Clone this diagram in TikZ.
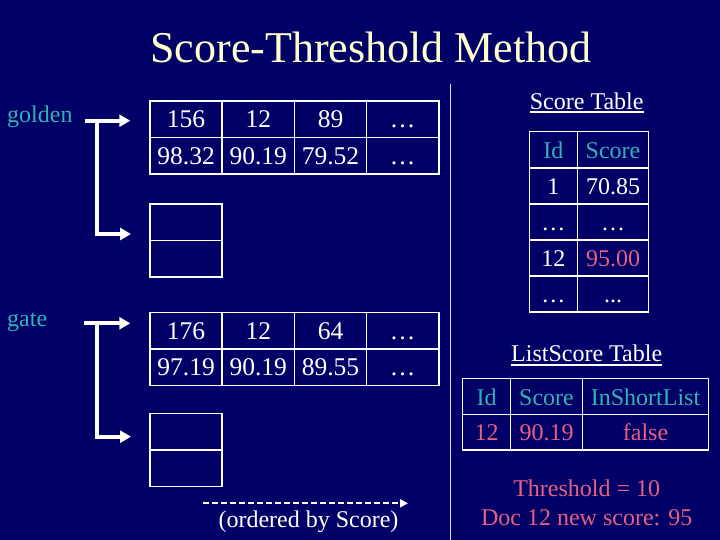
\documentclass[tikz,border=0pt]{standalone}
\usepackage{fontspec}
\setmainfont{Liberation Serif}
\usetikzlibrary{arrows.meta}
\definecolor{bgnavy}{RGB}{0,0,102}
\definecolor{ttlyellow}{RGB}{255,255,204}
\definecolor{tealc}{RGB}{51,178,178}
\definecolor{pinkc}{RGB}{230,96,128}
\newcommand{\fsz}{\fontsize{24}{28}\selectfont}
\newcommand{\fszb}{\fontsize{25.5}{30}\selectfont}
\tikzset{
  cell/.style={draw=white, line width=1.5pt, minimum width=#1, minimum height=36.5pt,
    inner sep=0pt, text height=17pt, text depth=0pt, font=\fsz, text=white},
  bigcell/.style={cell=#1, font=\fszb},
  txt/.style={inner sep=0pt, font=\fsz, text=white},
  lbl/.style={inner sep=0pt, font=\fsz, text=tealc},
  thickarrow/.style={draw=white, line width=4pt, -{Triangle[length=11pt,width=12pt]}},
  dasharrow/.style={draw=white, line width=2pt, dash pattern=on 6pt off 3pt,
    -{Triangle[length=8pt,width=8pt]}},
  uline/.style={draw=white, line width=1.8pt}
}
\begin{document}
\begin{tikzpicture}[x=1pt,y=-1pt]
\fill[bgnavy] (0,0) rectangle (720,540);
\useasboundingbox (0,0) rectangle (720,540);

% title
\node[inner sep=0pt, anchor=base, text=ttlyellow, font=\fontsize{44}{50}\selectfont] (title) at (371,63) {Score-Threshold Method};

% separator
\coordinate (septop) at (450.5,84);
\coordinate (sepbot) at (450.5,540);
\draw[draw=white!85!bgnavy, line width=1.5pt] (septop) -- (sepbot);

% labels
\node[lbl, anchor=base west] (golden) at (7,123) {golden};
\node[lbl, anchor=base west] (gate) at (7,326) {gate};

% golden table
\node[bigcell=72.2pt] (g11) at (186.1,119.4) {156};
\node[bigcell=72.2pt] (g12) at (258.3,119.4) {12};
\node[bigcell=72.2pt] (g13) at (330.5,119.4) {89};
\node[bigcell=72.2pt] (g14) at (402.7,119.4) {…};
\node[bigcell=72.2pt] (g21) at (186.1,156.0) {98.32};
\node[bigcell=72.2pt] (g22) at (258.3,156.0) {90.19};
\node[bigcell=72.2pt] (g23) at (330.5,156.0) {79.52};
\node[bigcell=72.2pt] (g24) at (402.7,156.0) {…};
\node[cell=72.2pt] (gb1) at (186.1,222.3) {};
\node[cell=72.2pt] (gb2) at (186.1,258.8) {};

% golden arrows
\coordinate (gs) at (85,120.7);
\coordinate (gj) at (96.7,120.7);
\coordinate (ge) at (131,234);
\draw[thickarrow, shorten >=19pt] (gs) -- (gs -| g11.west);
\draw[thickarrow] (gj) |- (ge);

% gate table
\node[bigcell=72.2pt] (t11) at (186.1,330.5) {176};
\node[bigcell=72.2pt] (t12) at (258.3,330.5) {12};
\node[bigcell=72.2pt] (t13) at (330.5,330.5) {64};
\node[bigcell=72.2pt] (t14) at (402.7,330.5) {…};
\node[bigcell=72.2pt] (t21) at (186.1,367.0) {97.19};
\node[bigcell=72.2pt] (t22) at (258.3,367.0) {90.19};
\node[bigcell=72.2pt] (t23) at (330.5,367.0) {89.55};
\node[bigcell=72.2pt] (t24) at (402.7,367.0) {…};
\node[cell=72.2pt] (tb1) at (186.1,431.8) {};
\node[cell=72.2pt] (tb2) at (186.1,468.3) {};

% gate arrows
\coordinate (ts) at (84,323.3);
\coordinate (tj) at (96.7,323.3);
\coordinate (te) at (131,436.7);
\draw[thickarrow, shorten >=19pt] (ts) -- (ts -| t11.west);
\draw[thickarrow] (tj) |- (te);

% ordered by score
\coordinate (ds) at (203,503.3);
\coordinate (de) at (408,503.3);
\draw[dasharrow] (ds) -- (de);
\node[txt, anchor=base] (ordered) at (308.5,527) {(ordered by Score)};

% score table
\node[txt, anchor=base] (sttl) at (586.7,109.3) {Score Table};
\draw[uline] ([yshift=-3pt]sttl.base west) -- ([yshift=-3pt]sttl.base east);
\tikzset{sc/.style={cell=#1, minimum height=36.1pt}}
\node[sc=48pt, text=tealc] (s11) at (553.3,149.75) {Id};
\node[sc=71.4pt, text=tealc] (s12) at (613.0,149.75) {Score};
\node[sc=48pt] (s21) at (553.3,185.85) {1};
\node[sc=71.4pt] (s22) at (613.0,185.85) {70.85};
\node[sc=48pt] (s31) at (553.3,221.95) {…};
\node[sc=71.4pt] (s32) at (613.0,221.95) {…};
\node[sc=48pt] (s41) at (553.3,258.05) {12};
\node[sc=71.4pt, text=pinkc] (s42) at (613.0,258.05) {95.00};
\node[sc=48pt] (s51) at (553.3,294.15) {…};
\node[sc=71.4pt] (s52) at (613.0,294.15) {...};

% listscore table
\node[txt, anchor=base] (lttl) at (586.7,361.7) {ListScore Table};
\draw[uline] ([yshift=-3pt]lttl.base west) -- ([yshift=-3pt]lttl.base east);
\tikzset{lc/.style={cell=#1, minimum height=35.7pt}}
\node[lc=47.6pt, text=tealc] (l11) at (486.5,396.5) {Id};
\node[lc=72.4pt, text=tealc] (l12) at (546.5,396.5) {Score};
\node[lc=125.6pt, text=tealc] (l13) at (645.5,396.5) {InShortList};
\node[lc=47.6pt, text=pinkc] (l21) at (486.5,432.2) {12};
\node[lc=72.4pt, text=pinkc] (l22) at (546.5,432.2) {90.19};
\node[lc=125.6pt, text=pinkc] (l23) at (645.5,432.2) {false};

% threshold notes
\node[txt, anchor=base, text=pinkc] (thr) at (586.7,496.7) {Threshold = 10};
\node[txt, anchor=base, text=pinkc] (doc) at (586.7,525) {Doc 12 new score: 95};
\end{tikzpicture}
\end{document}
